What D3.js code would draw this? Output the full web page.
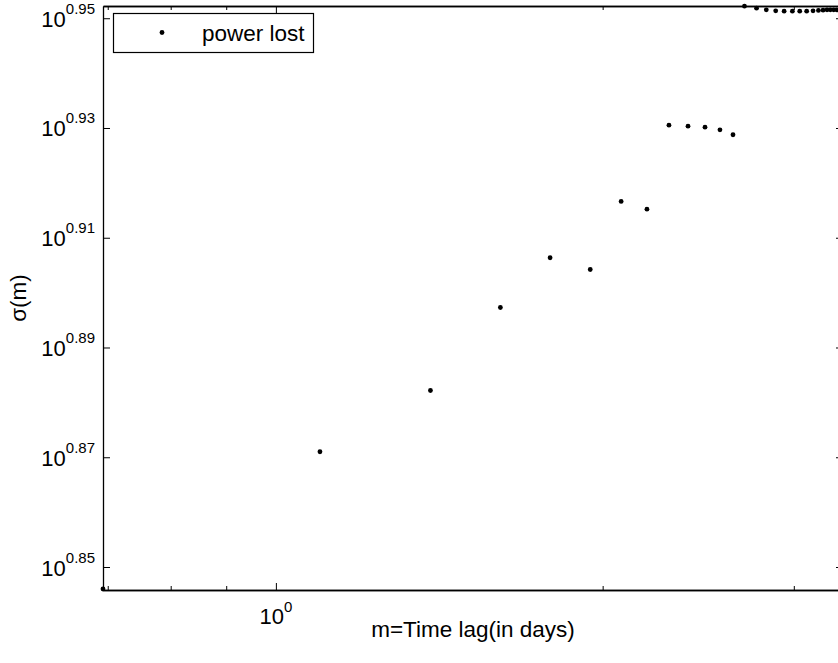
<!DOCTYPE html>
<html>
<head>
<meta charset="utf-8">
<script src="https://cdn.jsdelivr.net/npm/d3@7"></script>
<style>
  body { margin: 0; background: #fff; }
  svg { font-family: "Liberation Sans", Arial, Helvetica, sans-serif; }
</style>
</head>
<body>
<div id="chart"></div>
<script>
// values
var lagX = [0.693, 1.098, 1.388, 1.610, 1.789, 1.948, 2.080, 2.197, 2.302, 2.397,
            2.485, 2.565, 2.637, 2.702, 2.772, 2.830, 2.887, 2.939, 2.991, 3.038,
            3.083, 3.125, 3.161, 3.192, 3.219, 3.242, 3.265, 3.286];
var sigmaY = [7.0145, 7.4302, 7.6237, 7.8938, 8.0603, 8.0208, 8.2530, 8.2264, 8.5214, 8.5178,
              8.5143, 8.5050, 8.4872, 8.9578, 8.9503, 8.9439, 8.9402, 8.9391, 8.9391, 8.9391,
              8.9391, 8.9402, 8.9417, 8.9428, 8.9439, 8.9439, 8.9439, 8.9439];
var yTickExp = [0.85, 0.87, 0.89, 0.91, 0.93, 0.95];
var xMajor = [1];
var xMinor = [0.7, 0.8, 0.9, 2, 3];
var seriesName = "power lost";

var width = 838, height = 663;
// plot box (right edge lies just outside the window, as in the original)
var pLeft = 103, pRight = 843, pTop = 6, pBottom = 590;

var svg = d3.select("#chart").append("svg")
    .attr("width", width)
    .attr("height", height);

var x = d3.scaleLog()
    .domain([0.693, 3.33])
    .range([pLeft, pRight]);

var y = d3.scaleLog()
    .domain([Math.pow(10, 0.84581), Math.pow(10, 0.95223)])
    .range([pBottom, pTop]);

// axes box (bottom / left / top / right), ticks pointing inward
var axG = svg.append("g");

axG.append("g")
    .attr("transform", "translate(0," + pBottom + ")")
    .call(d3.axisBottom(x).tickValues(xMajor).tickSizeInner(-7).tickSizeOuter(0).tickFormat(""));
axG.append("g")
    .attr("transform", "translate(0," + pBottom + ")")
    .call(d3.axisBottom(x).tickValues(xMinor).tickSizeInner(-4).tickSizeOuter(0).tickFormat(""));
axG.append("g")
    .attr("transform", "translate(0," + pTop + ")")
    .call(d3.axisTop(x).tickValues(xMajor).tickSizeInner(-7).tickSizeOuter(0).tickFormat(""));
axG.append("g")
    .attr("transform", "translate(0," + pTop + ")")
    .call(d3.axisTop(x).tickValues(xMinor).tickSizeInner(-4).tickSizeOuter(0).tickFormat(""));

var yTicks = yTickExp.map(e => Math.pow(10, e));
axG.append("g")
    .attr("transform", "translate(" + pLeft + ",0)")
    .call(d3.axisLeft(y).tickValues(yTicks).tickSizeInner(-7).tickSizeOuter(0).tickFormat(""));
axG.append("g")
    .attr("transform", "translate(" + pRight + ",0)")
    .call(d3.axisRight(y).tickValues(yTicks).tickSizeInner(-7).tickSizeOuter(0).tickFormat(""));

axG.selectAll("path.domain").attr("stroke", "#000").attr("stroke-width", 1.3);
axG.selectAll(".tick line").attr("stroke", "#000").attr("stroke-width", 1);

// y tick labels 10^e
yTickExp.forEach(function (e) {
    var t = svg.append("text")
        .attr("x", 95)
        .attr("y", y(Math.pow(10, e)) + 8.5)
        .attr("text-anchor", "end")
        .attr("fill", "#000");
    t.append("tspan").attr("font-size", 22).text("10");
    t.append("tspan").attr("font-size", 15).attr("dy", -13).text(e.toFixed(2));
});

// x tick labels
xMajor.forEach(function (v) {
    var t = svg.append("text")
        .attr("x", x(v))
        .attr("y", 624)
        .attr("text-anchor", "middle")
        .attr("fill", "#000");
    t.append("tspan").attr("font-size", 22).text("10");
    t.append("tspan").attr("font-size", 15).attr("dy", -12).text(Math.round(Math.log10(v)));
});

// axis titles
svg.append("text")
    .attr("x", (pLeft + pRight) / 2)
    .attr("y", 637)
    .attr("text-anchor", "middle")
    .attr("font-size", 22.5)
    .text("m=Time lag(in days)");

svg.append("text")
    .attr("transform", "translate(26," + ((pTop + pBottom) / 2) + ") rotate(-90)")
    .attr("text-anchor", "middle")
    .attr("font-size", 22.5)
    .text("σ(m)");

// points
svg.append("g")
    .selectAll("circle")
    .data(lagX.map((d, i) => [d, sigmaY[i]]))
    .enter()
    .append("circle")
    .attr("cx", d => x(d[0]))
    .attr("cy", d => y(d[1]))
    .attr("r", 2.4)
    .attr("fill", "#000");

// legend
var lg = svg.append("g");
lg.append("rect")
    .attr("x", 113.5).attr("y", 13.5)
    .attr("width", 200).attr("height", 39)
    .attr("fill", "#fff").attr("stroke", "#000").attr("stroke-width", 1.2);
lg.append("circle")
    .attr("cx", 162).attr("cy", 32.5).attr("r", 2.4).attr("fill", "#000");
lg.append("text")
    .attr("x", 202).attr("y", 41)
    .attr("font-size", 22.5)
    .text(seriesName);
</script>
</body>
</html>
